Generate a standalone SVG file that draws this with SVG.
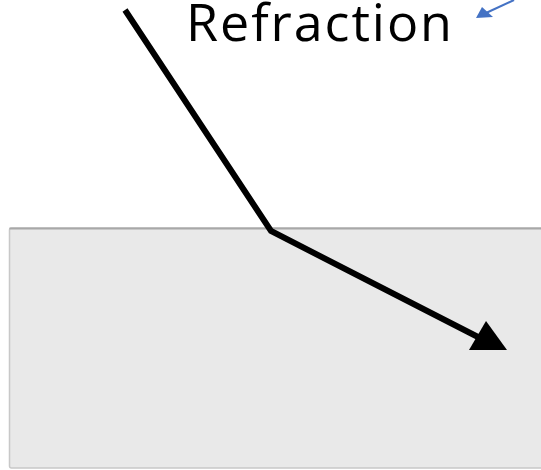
<svg xmlns="http://www.w3.org/2000/svg" width="541" height="470" viewBox="0 0 541 470">
<style>
.medium{fill:#e9e9e9;stroke:#c8c8c8;stroke-width:1.5}
.ray{fill:none;stroke:#000;stroke-width:6;stroke-linejoin:miter}
.label{font-family:"Open Sans","Liberation Sans",sans-serif;font-size:52px;fill:#000}
</style>
<rect width="541" height="470" fill="#fff"/>
<g id="medium">
<rect class="medium" x="9.5" y="228" width="540" height="240" rx="2"/>
<line x1="9.5" y1="228.5" x2="541" y2="228.5" stroke="#a8a8a8" stroke-width="2"/>
</g>
<g id="label">
<text class="label" x="186" y="41" textLength="266" lengthAdjust="spacing">Refraction</text>
</g>
<g id="connectors">
<polyline class="ray" points="125,10 271,231 478,337"/>
<polygon points="486,321 469,350 507,350" fill="#000"/>
<line x1="514" y1="0" x2="486" y2="13" stroke="#4472c4" stroke-width="2"/>
<polygon points="476,18 482,7 493,17" fill="#4472c4"/>
</g>
</svg>
